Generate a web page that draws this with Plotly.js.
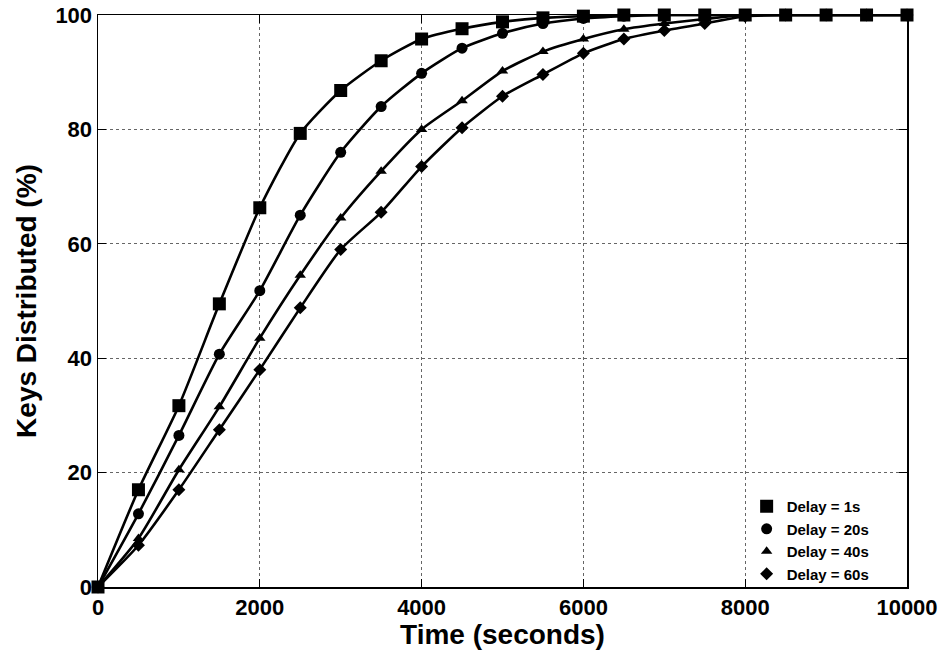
<!DOCTYPE html>
<html>
<head>
<meta charset="utf-8">
<script src="https://cdn.plot.ly/plotly-3.0.1.min.js"></script>
<style>html,body{margin:0;padding:0;background:#fff}#chart{width:943px;height:650px}</style>
</head>
<body>
<div id="chart"></div>
<script>
const time = [0,500,1000,1500,2000,2500,3000,3500,4000,4500,5000,5500,6000,6500,7000,7500,8000,8500,9000,9500,10000];
const delay1  = [0,17.0,31.7,49.5,66.3,79.3,86.8,92.0,95.8,97.6,98.8,99.5,99.8,100,100,100,100,100,100,100,100];
const delay20 = [0,12.8,26.5,40.7,51.8,65.0,76.0,84.0,89.8,94.2,96.8,98.5,99.4,99.8,100,100,100,100,100,100,100];
const delay40 = [0,8.5,20.5,31.5,43.5,54.5,64.5,72.7,80.0,85.0,90.2,93.6,95.8,97.5,98.5,99.3,100,100,100,100,100];
const delay60 = [0,7.3,17.0,27.5,38.0,48.8,59.0,65.5,73.5,80.3,85.8,89.6,93.3,95.8,97.3,98.5,99.8,100,100,100,100];
const names = ["Delay = 1s","Delay = 20s","Delay = 40s","Delay = 60s"];
const xTicks = [0,2000,4000,6000,8000,10000];
const yTicks = [0,20,40,60,80,100];
const series = [delay1, delay20, delay40, delay60];
const symbols = ["square","circle","triangle-up","diamond"];
const sizes = [13,11,10,10];

const traces = [];
series.forEach((ys,i)=>{
  traces.push({x:time,y:ys,type:"scatter",mode:"lines",line:{color:"#000",width:2.6,shape:"spline",smoothing:0.6},showlegend:false,hoverinfo:"skip"});
});
series.forEach((ys,i)=>{
  traces.push({x:time,y:ys,type:"scatter",mode:"markers",name:names[i],
    marker:{symbol:symbols[i],size:sizes[i],color:"#000"},cliponaxis:false});
});

const fam = "Liberation Sans, Arial, Helvetica, sans-serif";
const tickFont = {size:22,family:fam,color:"#000",weight:"bold"};
const titleFont = {size:28,family:fam,color:"#000",weight:"bold"};
const axisCommon = {
  tickfont:tickFont,
  showgrid:true,gridcolor:"#666",griddash:"dot",gridwidth:1,
  showline:true,linecolor:"#000",linewidth:1.5,mirror:"ticks",ticks:"inside",ticklen:8,tickcolor:"#000",tickwidth:1.2,
  zeroline:false,automargin:false
};
const layout = {
  width:943,height:650,
  margin:{l:98,r:36,t:15,b:63},
  paper_bgcolor:"#fff",plot_bgcolor:"#fff",
  font:{family:fam,color:"#000"},
  xaxis:Object.assign({},axisCommon,{range:[0,10000],tickvals:xTicks,ticktext:xTicks.map(String),
    title:{text:"Time (seconds)",font:titleFont,standoff:0}}),
  yaxis:Object.assign({},axisCommon,{range:[0,100],tickvals:yTicks,ticktext:yTicks.map(String),
    title:{text:"Keys Distributed (%)",font:titleFont,standoff:10}}),
  legend:{x:0.96,y:0.082,xanchor:"right",yanchor:"middle",bgcolor:"rgba(0,0,0,0)",
    font:{size:15,family:fam,color:"#000",weight:"bold"},tracegroupgap:0,itemwidth:30},
  showlegend:true
};
Plotly.newPlot("chart",traces,layout,{displayModeBar:false,staticPlot:true});
</script>
</body>
</html>
